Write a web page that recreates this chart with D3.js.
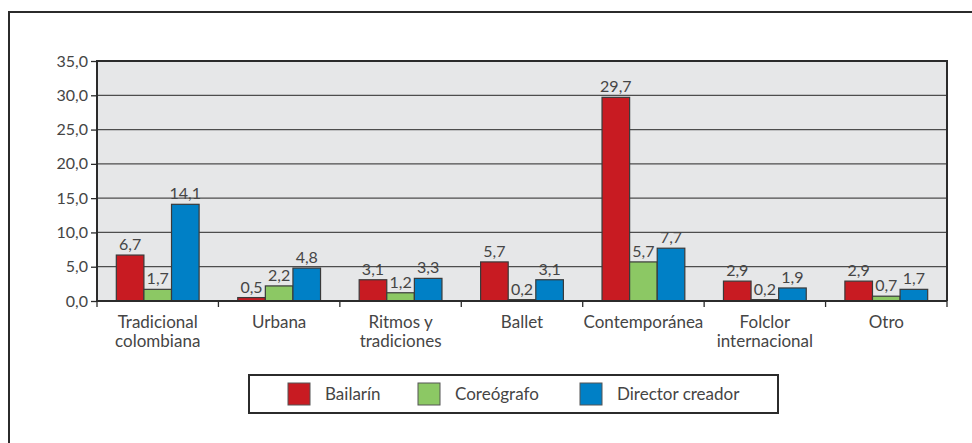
<!DOCTYPE html>
<html>
    <head>
        <meta charset="utf-8">
        <title>Danza</title>
        <style>
body {
    margin: 0;
    background-color: white;
    font-family: Lato, 'Open Sans', sans-serif;
}

text {
    fill: #454545;
}

.bar {
    stroke: #3a3a3a;
    stroke-width: 1.2;
}

.grid line {
    stroke: #4d4d4d;
    stroke-width: 1.3;
}
</style>
        <script src="https://cdn.jsdelivr.net/npm/d3@7"></script>
    </head>
    <body>
        <script>
var width = 972,
    height = 443;

var categories = [
    ["Tradicional", "colombiana"],
    ["Urbana"],
    ["Ritmos y", "tradiciones"],
    ["Ballet"],
    ["Contemporánea"],
    ["Folclor", "internacional"],
    ["Otro"]
];
var seriesNames = ["Bailarín", "Coreógrafo", "Director creador"];
var seriesColors = ["#c81b22", "#8cc864", "#0080c6"];
var bailarin = [6.7, 0.5, 3.1, 5.7, 29.7, 2.9, 2.9];
var coreografo = [1.7, 2.2, 1.2, 0.2, 5.7, 0.2, 0.7];
var director = [14.1, 4.8, 3.3, 3.1, 7.7, 1.9, 1.7];
var yTicks = [0, 5, 10, 15, 20, 25, 30, 35];

var series = [bailarin, coreografo, director];

var svg = d3.select('body')
    .append('svg')
    .attr('width', width)
    .attr('height', height);

// outer frame (only left and top are visible)
svg.append('rect')
    .attr('x', 9)
    .attr('y', 12)
    .attr('width', 1000)
    .attr('height', 500)
    .attr('fill', 'none')
    .attr('stroke', '#2b2b2b')
    .attr('stroke-width', 2);

var plotLeft = 97, plotRight = 947, plotTop = 61, plotBottom = 301;

var x = d3.scaleBand()
    .domain(d3.range(categories.length))
    .range([plotLeft, plotRight]);

var x1 = d3.scaleBand()
    .domain(d3.range(series.length))
    .range([0, x.bandwidth()])
    .paddingOuter(0.7);

var y = d3.scaleLinear()
    .domain([0, 35])
    .range([plotBottom, plotTop]);

svg.append('rect')
    .attr('x', plotLeft)
    .attr('y', plotTop)
    .attr('width', plotRight - plotLeft)
    .attr('height', plotBottom - plotTop)
    .attr('fill', '#e6e7e8');

var grid = svg.append('g').attr('class', 'grid');
grid.selectAll('line')
    .data(yTicks.slice(1, -1))
    .enter().append('line')
    .attr('x1', plotLeft)
    .attr('x2', plotRight)
    .attr('y1', function (d) { return y(d); })
    .attr('y2', function (d) { return y(d); });

// bars
var groups = svg.selectAll('.grp')
    .data(series)
    .enter().append('g')
    .attr('class', 'grp');

groups.each(function (vals, s) {
    var g = d3.select(this);
    g.selectAll('rect')
        .data(vals)
        .enter().append('rect')
        .attr('class', 'bar')
        .attr('x', function (d, i) { return x(i) + x1(s); })
        .attr('width', x1.bandwidth())
        .attr('y', function (d) { return y(d); })
        .attr('height', function (d) { return plotBottom - y(d); })
        .attr('fill', seriesColors[s]);

    g.selectAll('text')
        .data(vals)
        .enter().append('text')
        .attr('x', function (d, i) { return x(i) + x1(s) + x1.bandwidth() / 2; })
        .attr('y', function (d) { return y(d) - 5; })
        .attr('text-anchor', 'middle')
        .style('font-size', '16px')
        .text(function (d) { return d.toFixed(1).replace('.', ','); });
});

// plot border
svg.append('path')
    .attr('d', 'M' + plotLeft + ',' + plotBottom + 'V' + plotTop + 'H' + plotRight + 'V' + plotBottom)
    .attr('fill', 'none')
    .attr('stroke', '#2b2b2b')
    .attr('stroke-width', 2);

// y axis
var yAxis = svg.append('g')
    .attr('transform', 'translate(' + plotLeft + ',0)')
    .call(d3.axisLeft(y)
        .tickValues(yTicks)
        .tickSize(6)
        .tickPadding(3)
        .tickFormat(function (d) { return d.toFixed(1).replace('.', ','); }));
yAxis.select('.domain').remove();
yAxis.selectAll('line').attr('stroke', '#2b2b2b').attr('stroke-width', 1.3);
yAxis.selectAll('text')
    .style('font-family', 'Lato, sans-serif')
    .style('font-size', '16px')
    .attr('fill', '#454545');

// x axis
var xAxis = svg.append('g')
    .attr('transform', 'translate(0,' + plotBottom + ')');
xAxis.append('line')
    .attr('x1', plotLeft)
    .attr('x2', plotRight)
    .attr('stroke', '#2b2b2b')
    .attr('stroke-width', 2);
xAxis.selectAll('.tk')
    .data(d3.range(categories.length + 1))
    .enter().append('line')
    .attr('x1', function (d) { return plotLeft + d * x.bandwidth(); })
    .attr('x2', function (d) { return plotLeft + d * x.bandwidth(); })
    .attr('y1', 0)
    .attr('y2', 6)
    .attr('stroke', '#2b2b2b')
    .attr('stroke-width', 1.3);

var labels = xAxis.selectAll('.cat')
    .data(categories)
    .enter().append('text')
    .attr('class', 'cat')
    .attr('text-anchor', 'middle')
    .style('font-size', '17px')
    .attr('transform', function (d, i) {
        return 'translate(' + (x(i) + x.bandwidth() / 2) + ',0)';
    });
labels.selectAll('tspan')
    .data(function (d) { return d; })
    .enter().append('tspan')
    .attr('x', 0)
    .attr('y', function (d, i) { return 27 + i * 19; })
    .text(function (d) { return d; });

// legend
var legend = svg.append('g');
legend.append('rect')
    .attr('x', 249)
    .attr('y', 375)
    .attr('width', 529)
    .attr('height', 38)
    .attr('fill', 'white')
    .attr('stroke', '#2b2b2b')
    .attr('stroke-width', 2);

var legendX = [288, 418, 580];
var item = legend.selectAll('.item')
    .data(seriesNames)
    .enter().append('g')
    .attr('transform', function (d, i) { return 'translate(' + legendX[i] + ',383)'; });
item.append('rect')
    .attr('width', 22)
    .attr('height', 22)
    .attr('fill', function (d, i) { return seriesColors[i]; })
    .attr('stroke', '#555')
    .attr('stroke-width', 1);
item.append('text')
    .attr('x', 37)
    .attr('y', 17)
    .style('font-size', '17px')
    .text(function (d) { return d; });

        </script>
    </body>
</html>
